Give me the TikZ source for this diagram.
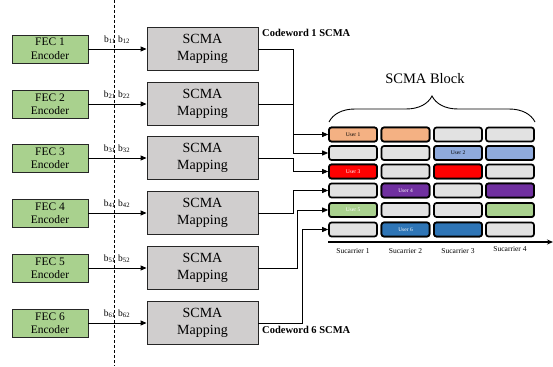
\documentclass[tikz,border=0pt]{standalone}
\usepackage{fontspec}
\setmainfont{Liberation Serif}
\usetikzlibrary{arrows.meta,decorations.pathreplacing}
\definecolor{fecgreen}{HTML}{A9D18E}
\definecolor{mapgray}{HTML}{D0CECE}
\definecolor{cellgray}{HTML}{E2E2E2}
\definecolor{uorange}{HTML}{F4B183}
\definecolor{ublue}{HTML}{8FAADC}
\definecolor{ured}{HTML}{FF0000}
\definecolor{upurple}{HTML}{7030A0}
\definecolor{udblue}{HTML}{2E75B6}
\tikzset{
  fecbox/.style={draw=black!85, line width=0.9pt, fill=fecgreen, minimum width=76pt, minimum height=28pt,
    inner sep=0pt, align=center, font=\fontsize{11.5}{13.5}\selectfont},
  mapbox/.style={draw=black!85, line width=0.9pt, fill=mapgray, minimum width=111pt, minimum height=43pt,
    inner sep=0pt, align=center, font=\fontsize{14}{17.5}\selectfont},
  cell/.style={draw=black, line width=1.7pt, rounded corners=2.5pt, minimum width=48pt, minimum height=14pt,
    inner sep=0pt, fill=cellgray, font=\fontsize{5.5}{6}\selectfont},
  wire/.style={line width=0.9pt, -{Triangle[length=6pt,width=5pt]}},
  blabel/.style={font=\fontsize{9.5}{10}\selectfont, inner sep=0pt},
  cwlabel/.style={font=\bfseries\fontsize{10.5}{12}\selectfont, inner sep=0pt, anchor=west},
  sclabel/.style={font=\fontsize{7.5}{8}\selectfont, inner sep=0pt},
}
\begin{document}
\begin{tikzpicture}[x=1pt,y=-1pt]
\useasboundingbox (0,0) rectangle (553,366);

% dashed separation line
\draw[line width=0.8pt, dash pattern=on 3pt off 2pt] (114,0) -- (114,366);

% encoders, mappers and the bit labels between them
\foreach \i/\y in {1/49,2/104,3/158,4/213,5/268,6/323}{
  \node[fecbox] (fec\i) at (50,\y) {FEC \i\\Encoder};
  \node[mapbox] (mp\i) at (202.5,\y) {SCMA\\Mapping};
  \draw[wire] (fec\i.east) -- (mp\i.west);
  \node[blabel] (bl\i) at (117,\y-9) {b\textsubscript{\i1} b\textsubscript{\i2}};
}

\node[cwlabel] (cw1) at (262,33) {Codeword 1 SCMA};
\node[cwlabel] (cw6) at (262,330) {Codeword 6 SCMA};

% resource grid
\foreach \r/\y in {1/134.5,2/153,3/171.5,4/190.5,5/210,6/229.5}{
  \foreach \c/\x in {1/353,2/405.5,3/458,4/510}{
    \node[cell] (c\r\c) at (\x,\y) {};
  }
}
\node[cell, fill=uorange] at (c11) {User 1};
\node[cell, fill=uorange] at (c12) {};
\node[cell, fill=ublue] at (c23) {User 2};
\node[cell, fill=ublue] at (c24) {};
\node[cell, fill=ured, text=white] at (c31) {User 3};
\node[cell, fill=ured] at (c33) {};
\node[cell, fill=upurple, text=white] at (c42) {User 4};
\node[cell, fill=upurple] at (c44) {};
\node[cell, fill=fecgreen, text=white] at (c51) {User 5};
\node[cell, fill=fecgreen] at (c54) {};
\node[cell, fill=udblue, text=white] at (c62) {User 6};
\node[cell, fill=udblue] at (c63) {};

% subcarrier axis
\coordinate (ax0) at (328,242);
\coordinate (ax1) at (553,242);
\draw[line width=2pt, -{Stealth[length=6pt,width=5pt]}] (ax0) -- (ax1);
\foreach \c/\x in {1/353,2/405.5,3/458}{
  \node[sclabel] (sc\c) at (\x,251) {Sucarrier \c};
}
\node[sclabel] (sc4) at (510,249) {Sucarrier 4};

% brace over the block
\draw[line width=0.9pt, decorate, decoration={brace, amplitude=26pt, aspect=0.5}]
  (329,122) -- (535,122);
\node[font=\fontsize{14.5}{16}\selectfont, inner sep=0pt] (blk) at (425,79) {SCMA Block};

% routing from the mappers into the grid rows
\coordinate (ja) at (293,0);
\coordinate (jb) at (297.5,0);
\coordinate (jc) at (302,0);
\draw[wire] (mp1.east) -- (mp1.east -| ja) |- (c11.west);
\draw[wire] (mp2.east) -- (mp2.east -| ja) |- (c21.west);
\draw[wire] (mp3.east) -- (mp3.east -| ja) |- (c31.west);
\draw[wire] (mp4.east) -- (mp4.east -| ja) |- (c41.west);
\draw[wire] (mp5.east) -- (mp5.east -| jb) |- (c51.west);
\draw[wire] (mp6.east) -- (mp6.east -| jc) |- (c61.west);
\end{tikzpicture}
\end{document}
